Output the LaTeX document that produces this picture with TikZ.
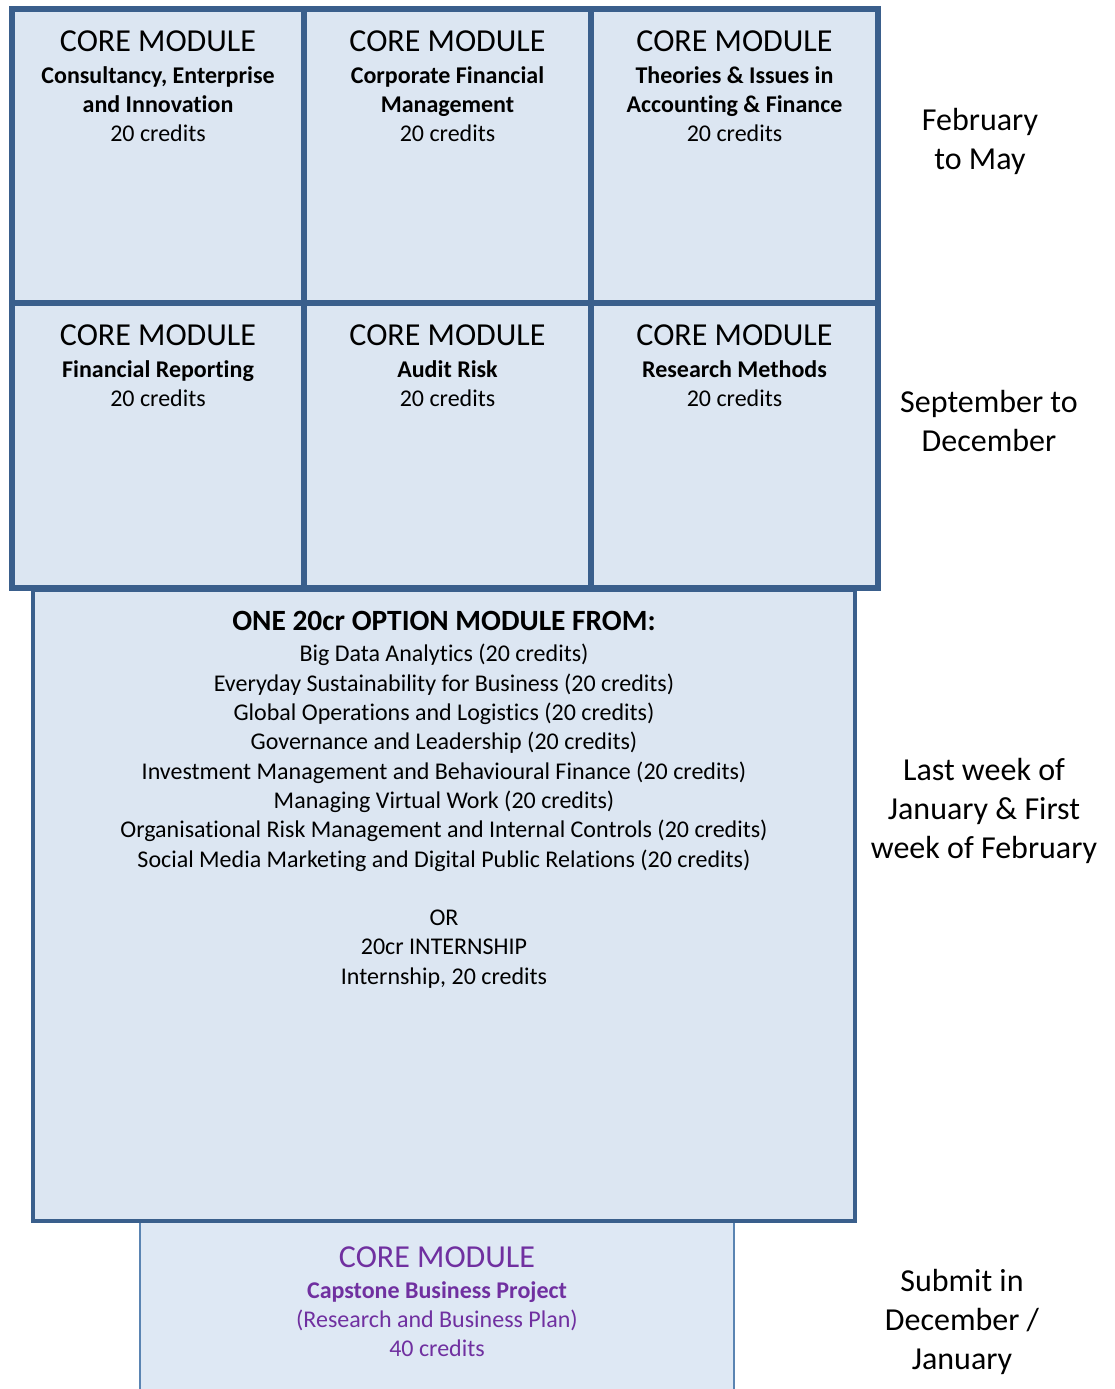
\documentclass[tikz,border=0pt]{standalone}
\usepackage{fontspec}
\setmainfont[Ligatures=NoCommon]{Carlito}
\usetikzlibrary{positioning}
\definecolor{cellfill}{HTML}{DCE6F2}
\definecolor{cellline}{HTML}{3A5F8C}
\definecolor{capline}{HTML}{5A84B2}
\definecolor{capfill}{HTML}{DEE8F4}
\definecolor{captext}{HTML}{7030A0}

\begin{document}
\begin{tikzpicture}[x=0.5pt, y=-0.5pt,
	cell/.style   = {draw=cellline, fill=cellfill, line width=2.6pt, rectangle, outer sep=0pt, inner sep=0pt},
	top row/.style = {cell, minimum height=147pt},
	low row/.style = {cell, minimum height=142.5pt},
	wide/.style   = {minimum width=146pt},
	narrow/.style = {minimum width=143.5pt},
	title/.style  = {anchor=north, align=center, inner sep=0pt, font=\fontsize{12}{14.5}\selectfont},
	period/.style = {align=center, font=\fontsize{16}{19.5}\selectfont}]

	\clip (0,0) rectangle (1115,1389);

	% capstone project, partly below the page
	\node[cell, draw=capline, fill=capfill, line width=1.2pt, minimum width=297pt, minimum height=90pt] (cap) at (437,1312) {};
	\node[title, text=captext, below=12pt of cap.north] (capt) {{\fontsize{16}{19}\selectfont CORE MODULE}\\[1pt]
		\textbf{Capstone Business Project}\\
		(Research and Business Plan)\\
		40 credits};

	% the option block
	\node[cell, line width=2pt, minimum width=411pt, minimum height=315.5pt] (opt) at (444,905.5) {};
	\node[title, font=\fontsize{12}{14.65}\selectfont, below=10.5pt of opt.north] (optt) {{\fontsize{14.7}{16}\selectfont\bfseries ONE 20cr OPTION MODULE FROM:}\\[1pt]
		Big Data Analytics (20 credits)\\
		Everyday Sustainability for Business (20 credits)\\
		Global Operations and Logistics (20 credits)\\
		Governance and Leadership (20 credits)\\
		Investment Management and Behavioural Finance (20 credits)\\
		Managing Virtual Work (20 credits)\\
		Organisational Risk Management and Internal Controls (20 credits)\\
		Social Media Marketing and Digital Public Relations (20 credits)\\[14.65pt]
		OR\\
		20cr INTERNSHIP\\
		Internship, 20 credits};

	% core modules, two rows of three
	\node[top row, wide] (c1) at (158,156) {};
	\node[top row, narrow, right=0pt of c1] (c2) {};
	\node[top row, narrow, right=0pt of c2] (c3) {};
	\node[low row, wide, below=0pt of c1] (c4) {};
	\node[low row, narrow, right=0pt of c4] (c5) {};
	\node[low row, narrow, right=0pt of c5] (c6) {};

	\node[title, below=10.5pt of c1.north] (t1) {{\fontsize{16}{19}\selectfont CORE MODULE}\\[1.5pt]
		\textbf{Consultancy, Enterprise}\\
		\textbf{and Innovation}\\
		20 credits};
	\node[title, below=10.5pt of c2.north] (t2) {{\fontsize{16}{19}\selectfont CORE MODULE}\\[1.5pt]
		\textbf{Corporate Financial}\\
		\textbf{Management}\\
		20 credits};
	\node[title, below=10.5pt of c3.north] (t3) {{\fontsize{16}{19}\selectfont CORE MODULE}\\[1.5pt]
		\textbf{Theories \& Issues in}\\
		\textbf{Accounting \& Finance}\\
		20 credits};
	\node[title, below=10.5pt of c4.north] (t4) {{\fontsize{16}{19}\selectfont CORE MODULE}\\[1.5pt]
		\textbf{Financial Reporting}\\
		20 credits};
	\node[title, below=10.5pt of c5.north] (t5) {{\fontsize{16}{19}\selectfont CORE MODULE}\\[1.5pt]
		\textbf{Audit Risk}\\
		20 credits};
	\node[title, below=10.5pt of c6.north] (t6) {{\fontsize{16}{19}\selectfont CORE MODULE}\\[1.5pt]
		\textbf{Research Methods}\\
		20 credits};

	% when each block runs
	\node[period] (feb) at (980,141) {February\\to May};
	\node[period] (sep) at (989,421) {September to\\December};
	\node[period] (jan) at (984,811) {Last week of\\January \& First\\week of February};
	\node[period] (dec) at (962,1322) {Submit in\\December /\\January};

\end{tikzpicture}
\end{document}
